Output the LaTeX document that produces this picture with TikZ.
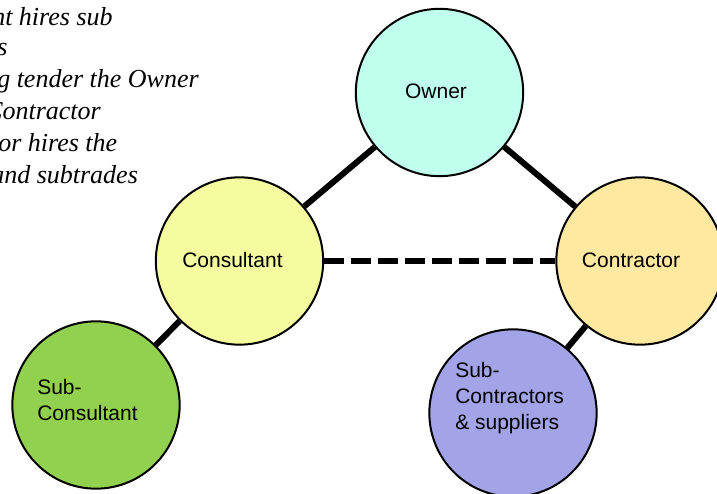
\documentclass[tikz,border=0pt]{standalone}
\usepackage{fontspec}
\setmainfont{Liberation Serif}
\setsansfont{Liberation Sans}
\usetikzlibrary{positioning}
\definecolor{ownercol}{RGB}{192,255,238}
\definecolor{consultcol}{RGB}{245,252,160}
\definecolor{contractcol}{RGB}{255,232,160}
\definecolor{subconscol}{RGB}{146,208,80}
\definecolor{subcontcol}{RGB}{163,163,232}

\begin{document}
\begin{tikzpicture}[x=0.75pt, y=-0.75pt,
    ball/.style={circle, draw=black, line width=1.5pt, minimum size=125.5pt, inner sep=0pt},
    conn/.style={line width=4.5pt},
    lbl/.style={inner sep=0pt, align=left, font=\sffamily\fontsize{15.75}{19.3}\selectfont},
    note/.style={anchor=base west, inner sep=0pt, font=\itshape\fontsize{19.5}{23}\selectfont}]
                \useasboundingbox (0, 0) rectangle (717, 493);
                \clip (0, 0) rectangle (717, 493);
                % remark, cut at the left edge
                \node[note] (note1) at (-8, 25) {nt hires sub};
                \node[note] (note2) at (-3, 55) {s};
                \node[note] (note3) at (-3, 87) {g tender the Owner};
                \node[note] (note4) at (-15, 119) {Contractor};
                \node[note] (note5) at (-2, 151) {or hires the};
                \node[note] (note6) at (-9, 183) {and subtrades};
                % parties
                \node[ball, fill=ownercol] (owner) at (439.5, 92.5) {};
                \node[ball, fill=consultcol] (consult) at (239.5, 261) {};
                \node[ball, fill=contractcol] (contract) at (640, 261) {};
                \node[ball, fill=subconscol] (subcons) at (96, 405) {};
                \node[ball, fill=subcontcol] (subcont) at (513, 413) {};
                \node[lbl] (ownertxt) at (436, 91) {Owner};
                \node[lbl] (consulttxt) at (232.5, 260) {Consultant};
                \node[lbl] (contracttxt) at (631, 260) {Contractor};
                \node[lbl, anchor=west] (subconstxt) at (37, 400) {Sub-\\Consultant};
                \node[lbl, anchor=west] (subconttxt) at (455, 398) {Sub-\\Contractors\\\& suppliers};
                % links
                \draw[conn] (owner) -- (consult);
                \draw[conn] (owner) -- (contract);
                \draw[conn] (consult) -- (subcons);
                \draw[conn] (contract) -- (subcont);
                \draw[conn, line width=4.9pt, dash pattern=on 15pt off 5.25pt] (consult) -- (contract);
            \end{tikzpicture}
\end{document}
